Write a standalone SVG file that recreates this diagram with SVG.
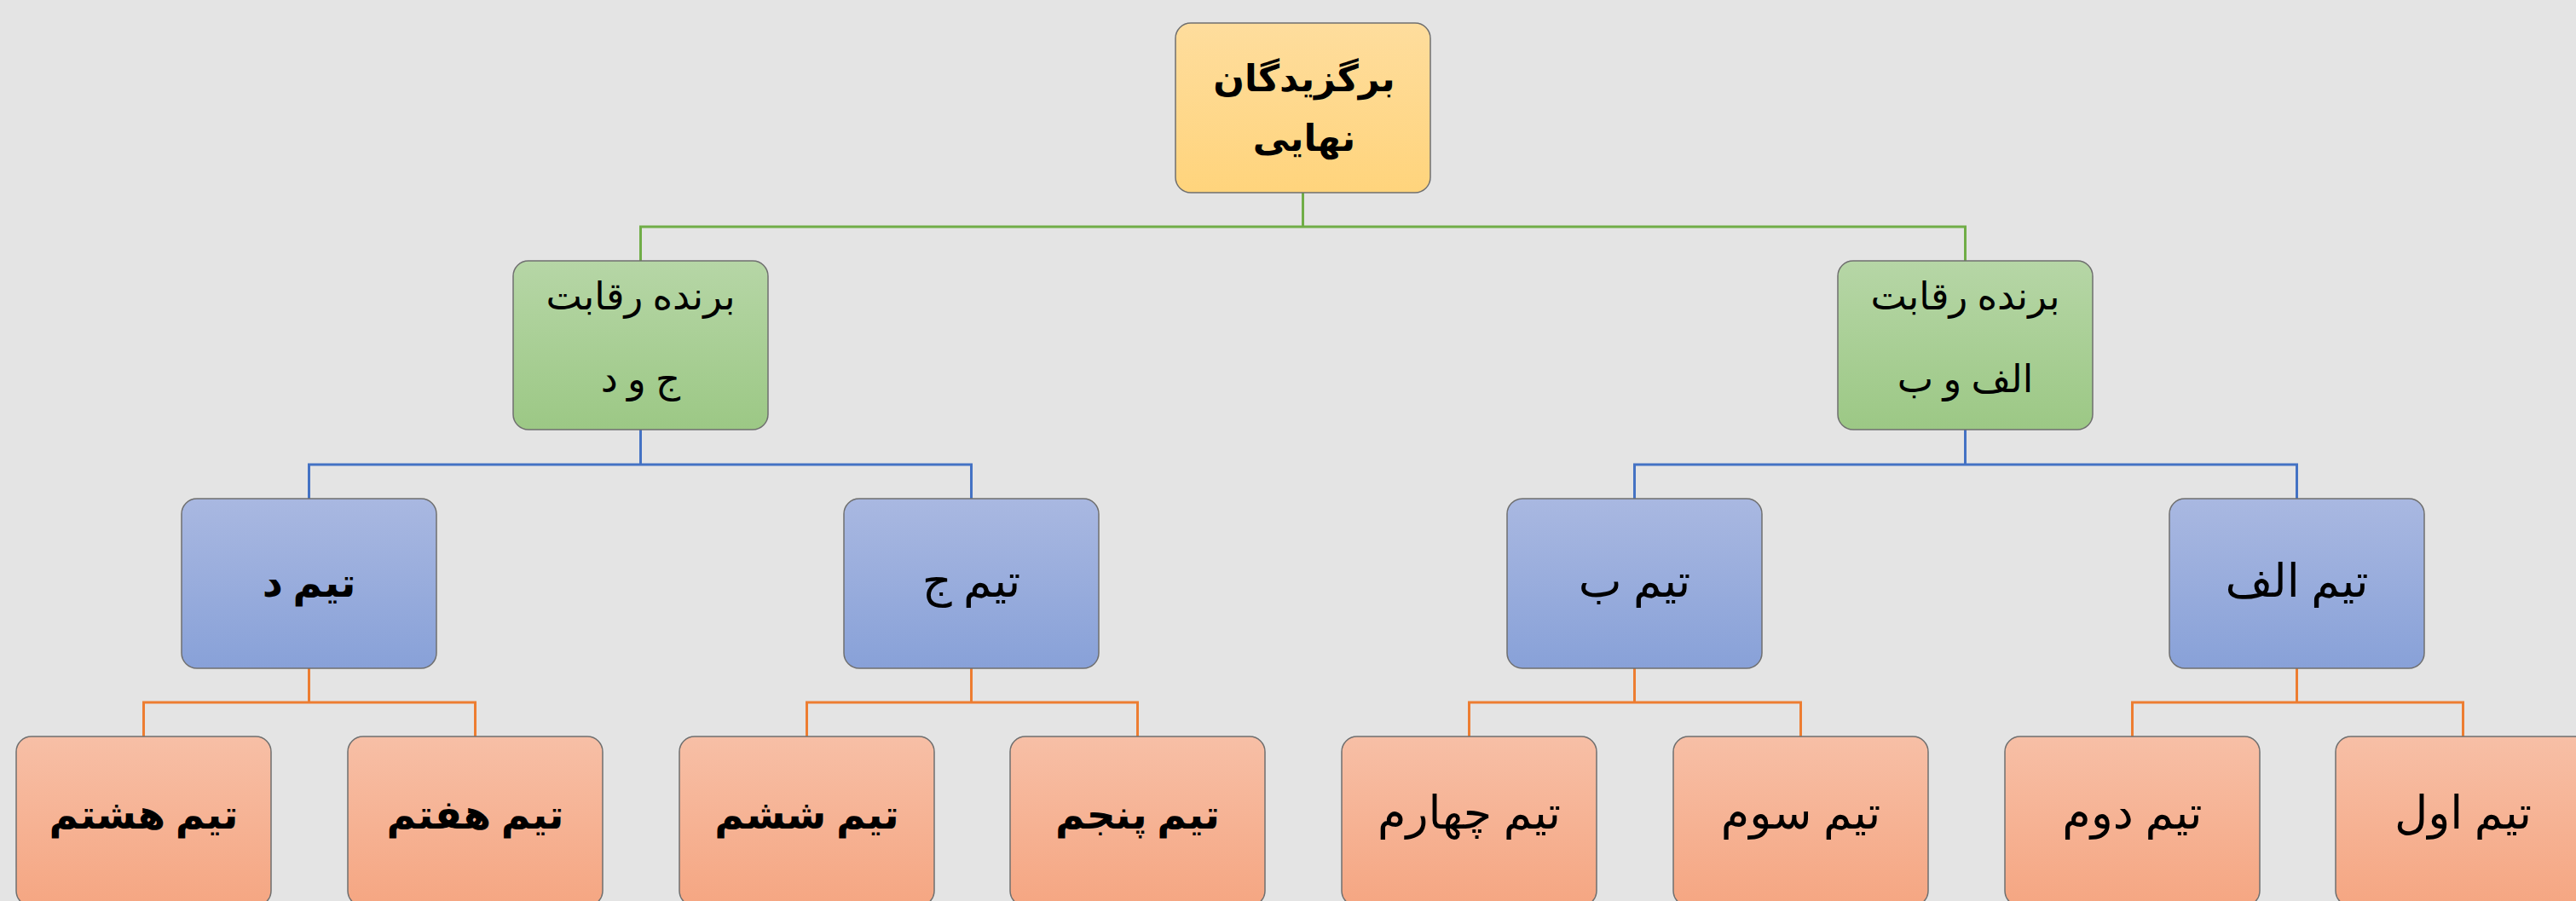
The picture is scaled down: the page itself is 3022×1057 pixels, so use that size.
<svg xmlns="http://www.w3.org/2000/svg" width="3022" height="1057" viewBox="0 0 3022 1057">
<defs>
<linearGradient id="gGold" x1="0" y1="0" x2="0" y2="1"><stop offset="0" stop-color="#FEDD9D"/><stop offset="1" stop-color="#FFD47C"/></linearGradient>
<linearGradient id="gGreen" x1="0" y1="0" x2="0" y2="1"><stop offset="0" stop-color="#B6D6A6"/><stop offset="1" stop-color="#9CC885"/></linearGradient>
<linearGradient id="gBlue" x1="0" y1="0" x2="0" y2="1"><stop offset="0" stop-color="#A9B8E1"/><stop offset="1" stop-color="#88A1D8"/></linearGradient>
<linearGradient id="gOrange" x1="0" y1="0" x2="0" y2="1"><stop offset="0" stop-color="#F7BFA6"/><stop offset="1" stop-color="#F5A682"/></linearGradient>
<style>
.box{stroke:#6F6F6F;stroke-width:1.5}
.gold{fill:url(#gGold)}
.green{fill:url(#gGreen)}
.blue{fill:url(#gBlue)}
.orange{fill:url(#gOrange)}
text{font-family:"Liberation Serif","DejaVu Serif","DejaVu Sans",serif;fill:#000;text-anchor:middle;direction:rtl}
.t1{font-size:43px;font-weight:bold}
.t2{font-size:45px}
.t3{font-size:54px}
.t3b{font-size:47px;font-weight:bold}
.cg{stroke:#70AD47;stroke-width:3;fill:none}
.cb{stroke:#4472C4;stroke-width:3;fill:none}
.co{stroke:#ED7D31;stroke-width:3;fill:none}
</style>
</defs>
<rect x="0" y="0" width="3022" height="1057" fill="#E4E4E4"/>
<g id="connectors">
<path class="cg" d="M1528.5 226V266M751.5 306V266H2305.5V306"/>
<path class="cb" d="M751.5 504V545M362.5 585V545H1139.5V585"/>
<path class="cb" d="M2305.5 504V545M1917.5 585V545H2694.5V585"/>
<path class="co" d="M362.5 784V824M168.5 864V824H557.5V864"/>
<path class="co" d="M1139.5 784V824M946.5 864V824H1334.5V864"/>
<path class="co" d="M1917.5 784V824M1723.5 864V824H2112.5V864"/>
<path class="co" d="M2694.5 784V824M2501.5 864V824H2889.5V864"/>
</g>
<g id="root"><rect class="box gold" x="1379" y="27" width="299" height="199" rx="18"/><text class="t1" x="1530" y="107">برگزیدگان</text><text class="t1" x="1530" y="177">نهایی</text></g>
<g id="winnerCD"><rect class="box green" x="602" y="306" width="299" height="198" rx="18"/><text class="t2" x="751.5" y="363">برنده رقابت</text><text class="t2" x="751.5" y="460">ج و د</text></g>
<g id="winnerAB"><rect class="box green" x="2156" y="306" width="299" height="198" rx="18"/><text class="t2" x="2305.5" y="363">برنده رقابت</text><text class="t2" x="2305.5" y="460">الف و ب</text></g>
<g id="teamD"><rect class="box blue" x="213" y="585" width="299" height="199" rx="18"/><text class="t3b" x="362.5" y="700">تیم د</text></g>
<g id="teamJ"><rect class="box blue" x="990" y="585" width="299" height="199" rx="18"/><text class="t3" x="1139.5" y="700">تیم ج</text></g>
<g id="teamB"><rect class="box blue" x="1768" y="585" width="299" height="199" rx="18"/><text class="t3" x="1917.5" y="700">تیم ب</text></g>
<g id="teamAlef"><rect class="box blue" x="2545" y="585" width="299" height="199" rx="18"/><text class="t3" x="2694.5" y="700">تیم الف</text></g>
<g id="team8"><rect class="box orange" x="19" y="864" width="299" height="199" rx="18"/><text class="t3b" x="168.5" y="972">تیم هشتم</text></g>
<g id="team7"><rect class="box orange" x="408" y="864" width="299" height="199" rx="18"/><text class="t3b" x="557.5" y="972">تیم هفتم</text></g>
<g id="team6"><rect class="box orange" x="797" y="864" width="299" height="199" rx="18"/><text class="t3b" x="946.5" y="972">تیم ششم</text></g>
<g id="team5"><rect class="box orange" x="1185" y="864" width="299" height="199" rx="18"/><text class="t3b" x="1334.5" y="972">تیم پنجم</text></g>
<g id="team4"><rect class="box orange" x="1574" y="864" width="299" height="199" rx="18"/><text class="t3" x="1723.5" y="972">تیم چهارم</text></g>
<g id="team3"><rect class="box orange" x="1963" y="864" width="299" height="199" rx="18"/><text class="t3" x="2112.5" y="972">تیم سوم</text></g>
<g id="team2"><rect class="box orange" x="2352" y="864" width="299" height="199" rx="18"/><text class="t3" x="2501.5" y="972">تیم دوم</text></g>
<g id="team1"><rect class="box orange" x="2740" y="864" width="299" height="199" rx="18"/><text class="t3" x="2889.5" y="972">تیم اول</text></g>
</svg>
